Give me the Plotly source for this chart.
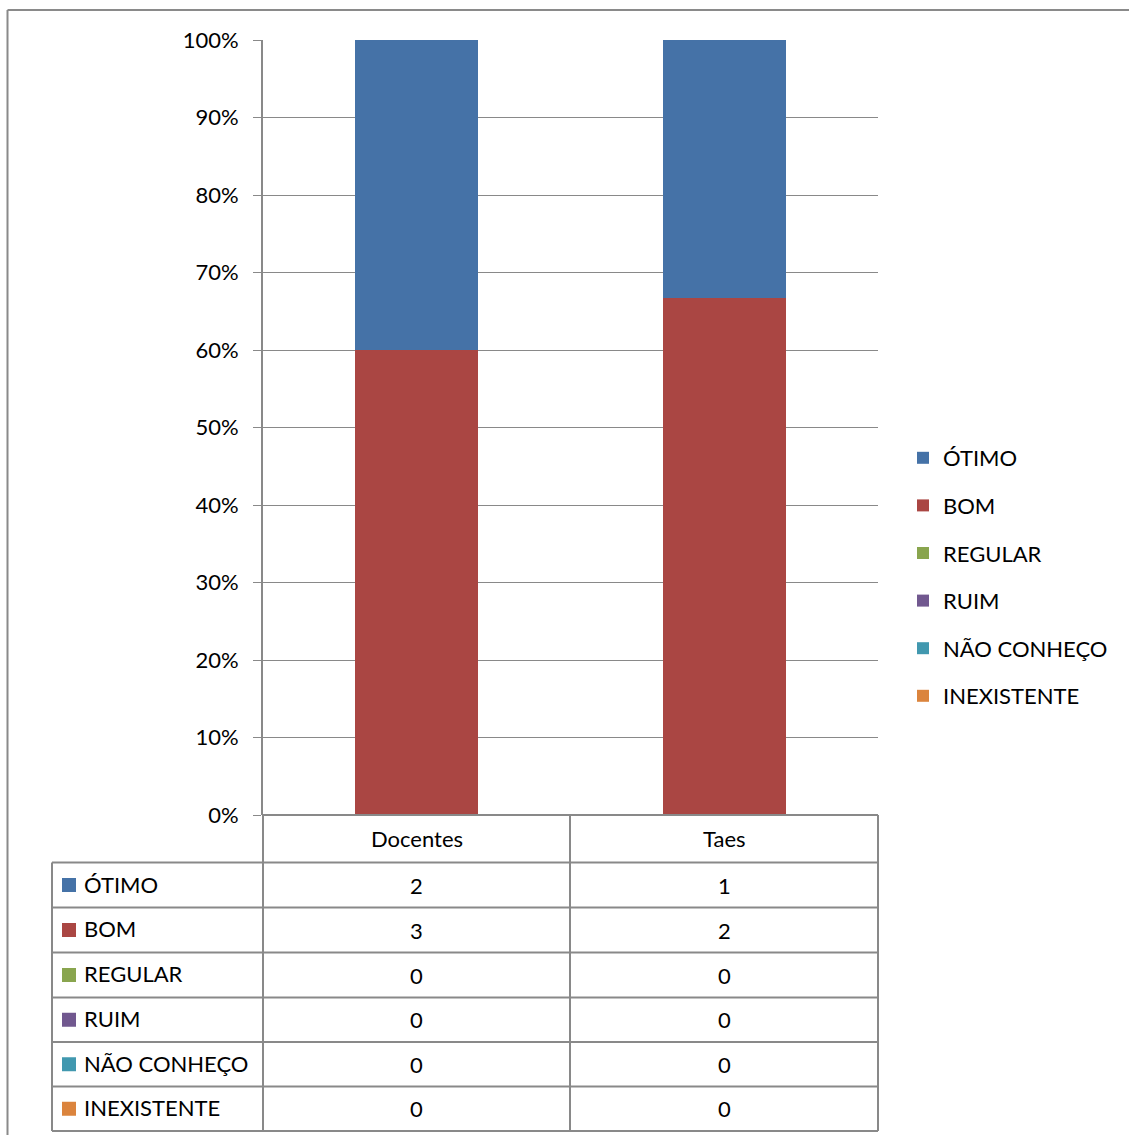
import plotly.graph_objects as go

# Survey answers per group
categories = ["Docentes", "Taes"]
series_names = ["ÓTIMO", "BOM", "REGULAR", "RUIM", "NÃO CONHEÇO", "INEXISTENTE"]
otimo = [2, 1]
bom = [3, 2]
regular = [0, 0]
ruim = [0, 0]
nao_conheco = [0, 0]
inexistente = [0, 0]
series_values = [otimo, bom, regular, ruim, nao_conheco, inexistente]
series_colors = ["#4572A7", "#AA4643", "#89A54E", "#71588F", "#4198AF", "#DB843D"]
y_ticks = [0, 10, 20, 30, 40, 50, 60, 70, 80, 90, 100]
y_tick_labels = [f"{v}%" for v in y_ticks]

W, H = 1129, 1135
PL, PR, PT, PB = 263, 878, 40, 815   # plot area in pixels
FONT = "Lato, 'Open Sans', sans-serif"
LINE = "#898989"


def px(x):
    return (x - PL) / (PR - PL)


def py(y):
    return (PB - y) / (PB - PT)


fig = go.Figure()
# stacked bottom-to-top: last series first so BOM sits under ÓTIMO;
# legendrank keeps the legend in the table's order
series = list(zip(series_names, series_values, series_colors))
for rank, (name, vals, col) in reversed(list(enumerate(series))):
    fig.add_trace(go.Bar(
        x=categories, y=vals, name=name, marker_color=col,
        marker_line_width=0, legendgroup=name, legendrank=1000 + rank,
    ))

shapes = []
annotations = []

# data table under the chart
col_edges = [52, PL, 570, PR]
row_edges = [PB, 862.5, 907.5, 952.5, 997.5, 1042, 1086.5, 1131]
tl = dict(color=LINE, width=2)
for i, yv in enumerate(row_edges):
    x0 = PL if i == 0 else col_edges[0]
    shapes.append(dict(type="line", xref="paper", yref="paper",
                       x0=px(x0), x1=px(PR), y0=py(yv), y1=py(yv), line=tl))
for i, xv in enumerate(col_edges):
    y0 = row_edges[1] if i == 0 else row_edges[0]
    shapes.append(dict(type="line", xref="paper", yref="paper",
                       x0=px(xv), x1=px(xv), y0=py(y0), y1=py(row_edges[-1]), line=tl))

tfont = dict(family=FONT, size=22, color="#000000")
for j, cat in enumerate(categories):
    cx = (col_edges[j + 1] + col_edges[j + 2]) / 2
    annotations.append(dict(xref="paper", yref="paper", x=px(cx),
                            y=py((row_edges[0] + row_edges[1]) / 2),
                            text=cat, showarrow=False, font=tfont,
                            xanchor="center", yanchor="middle"))
for i, (name, vals, col) in enumerate(series):
    cy = (row_edges[i + 1] + row_edges[i + 2]) / 2
    shapes.append(dict(type="rect", xref="paper", yref="paper",
                       x0=px(62), x1=px(76), y0=py(cy - 7), y1=py(cy + 7),
                       fillcolor=col, line_width=0))
    annotations.append(dict(xref="paper", yref="paper", x=px(82), y=py(cy - 1),
                            text=name, showarrow=False, font=tfont,
                            xanchor="left", yanchor="middle"))
    for j, v in enumerate(vals):
        cx = (col_edges[j + 1] + col_edges[j + 2]) / 2
        annotations.append(dict(xref="paper", yref="paper", x=px(cx), y=py(cy),
                                text=str(v), showarrow=False, font=tfont,
                                xanchor="center", yanchor="middle"))

# outer frame of the chart area
frame = dict(color="#8a8a8a", width=2)
shapes.append(dict(type="line", xref="paper", yref="paper",
                   x0=px(7.5), x1=px(W + 5), y0=py(10), y1=py(10), line=frame))
shapes.append(dict(type="line", xref="paper", yref="paper",
                   x0=px(7.5), x1=px(7.5), y0=py(10), y1=py(H + 5), line=frame))

fig.update_layout(
    width=W, height=H,
    margin=dict(l=PL, r=W - PR, t=PT, b=H - PB, pad=0),
    paper_bgcolor="white", plot_bgcolor="white",
    barmode="stack", barnorm="percent", bargap=0.6,
    font=dict(family=FONT, size=22, color="#000000"),
    showlegend=True,
    legend=dict(
        x=px(903), y=py(577), xanchor="left", yanchor="middle",
        traceorder="grouped", tracegroupgap=16,
        font=dict(family=FONT, size=22, color="#000000"),
        bgcolor="rgba(0,0,0,0)", itemclick=False,
    ),
    xaxis=dict(
        range=[-0.5, 1.5], showticklabels=False, ticks="",
        showgrid=False, showline=False, zeroline=False, fixedrange=True,
    ),
    yaxis=dict(
        range=[0, 100], tickvals=y_ticks, ticktext=y_tick_labels,
        ticks="outside", ticklen=8, tickwidth=1, tickcolor=LINE,
        showgrid=True, gridcolor=LINE, gridwidth=1,
        showline=True, linecolor=LINE, linewidth=2,
        zeroline=False, ticklabelstandoff=10,
        tickfont=dict(family=FONT, size=22, color="#000000"),
        fixedrange=True,
    ),
    shapes=shapes, annotations=annotations,
)

fig.write_html("out.html")
